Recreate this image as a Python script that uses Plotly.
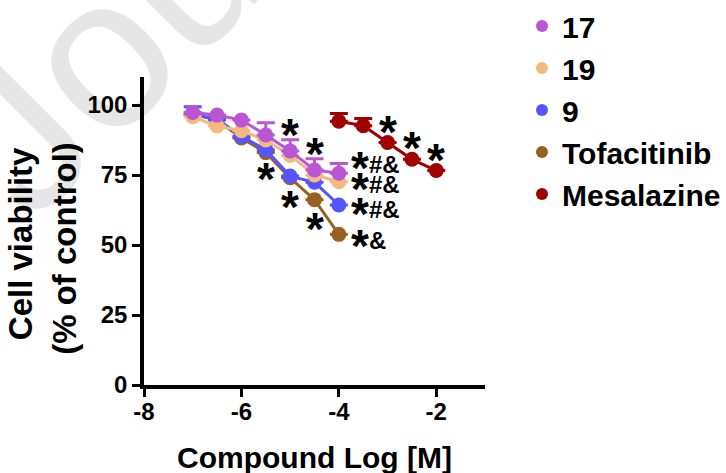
import plotly.graph_objects as go

# ---------------- data ----------------
conc = [-7, -6.5, -6, -5.5, -5, -4.5, -4]
conc_mes = [-4, -3.5, -3, -2.5, -2]

names = ["17", "19", "9", "Tofacitinib", "Mesalazine"]
colors = ["#BA55D3", "#F4B97F", "#5555FF", "#99611F", "#A00000"]

v17 = [97.3, 96.4, 94.6, 89.3, 83.6, 76.8, 75.6]
e17 = [0, 0, 0, 4.4, 4.0, 4.0, 3.5]
v19 = [95.8, 92.5, 90.8, 87.5, 82.0, 75.0, 72.6]
e19 = [0, 0, 0, 0, 0, 0, 0]
v9 = [96.6, 95.0, 88.8, 84.0, 74.6, 72.4, 64.3]
e9 = [2.8, 0, 0, 0, 0, 0, 0]
vtof = [96.8, 94.6, 88.2, 83.0, 74.0, 66.2, 53.8]
etof = [0, 0, 0, 0, 0, 0, 0]
vmes = [94.2, 92.6, 86.6, 80.6, 76.6]
emes = [2.8, 2.6, 0, 0, 0]

xs = [conc, conc, conc, conc, conc_mes]
ys = [v17, v19, v9, vtof, vmes]
es = [e17, e19, e9, etof, emes]

# significance marks: (series index, point index)
stars_above = [(0, 4), (0, 5), (4, 2), (4, 3), (4, 4)]
stars_below = [(2, 3), (3, 4), (3, 5)]
end_labels = [(0, "#&"), (1, "#&"), (2, "#&"), (3, "&")]

xticks = [-8, -6, -4, -2]
yticks = [0, 25, 50, 75, 100]

FONT = "Liberation Sans, Arial, sans-serif"


def bold(size, color="black"):
    return dict(size=size, color=color, family=FONT, weight="bold")


fig = go.Figure()

# data traces, drawn last-to-first so "17" is on top
for i in reversed(range(len(names))):
    fig.add_trace(go.Scatter(
        x=xs[i], y=ys[i], mode="lines+markers", showlegend=False,
        line=dict(color=colors[i], width=3),
        marker=dict(color=colors[i], size=15),
        error_y=dict(type="data", array=es[i], arrayminus=[0] * len(es[i]),
                     color=colors[i], thickness=3, width=9),
        cliponaxis=False,
    ))

# legend entries
for i in range(len(names)):
    fig.add_trace(go.Scatter(
        x=[None], y=[None], mode="markers", name=names[i],
        marker=dict(color=colors[i], size=15),
    ))

ann = []
for s, p in stars_above:
    ann.append(dict(x=xs[s][p], y=ys[s][p], text="*", showarrow=False,
                    xref="x", yref="y", font=bold(46),
                    yshift=(11 if s == 4 else 16), xanchor="center", yanchor="middle"))
for s, p in stars_below:
    ann.append(dict(x=xs[s][p], y=ys[s][p], text="*", showarrow=False,
                    xref="x", yref="y", font=bold(46),
                    yshift=-29, xanchor="center", yanchor="middle"))
star_end_shift = [5, -7, -9, -12]
txt_end_shift = [9, -3, -5, -6]
for k, (s, t) in enumerate(end_labels):
    ann.append(dict(x=xs[s][-1], y=ys[s][-1], text="*", showarrow=False,
                    xref="x", yref="y", font=bold(46),
                    xshift=21, yshift=star_end_shift[k], xanchor="center", yanchor="middle"))
    ann.append(dict(x=xs[s][-1], y=ys[s][-1], text=t, showarrow=False,
                    xref="x", yref="y", font=bold(24),
                    xshift=28, yshift=txt_end_shift[k], xanchor="left", yanchor="middle"))

# axis titles
ann.append(dict(x=-0.36, y=0.458, xref="paper", yref="paper", text="Cell viability",
                textangle=-90, showarrow=False, xanchor="center", yanchor="middle",
                font=bold(33)))
ann.append(dict(x=-0.232, y=0.445, xref="paper", yref="paper", text="(% of control)",
                textangle=-90, showarrow=False, xanchor="center", yanchor="middle",
                font=bold(33)))
ann.append(dict(x=0.5, y=-0.234, xref="paper", yref="paper", text="Compound Log [M]",
                showarrow=False, xanchor="center", yanchor="middle",
                font=bold(30)))

# watermark as a label on an invisible line, kept beneath everything
watermark = dict(
    type="line", xref="paper", yref="paper", layer="below",
    x0=0.9892, y0=2.4084, x1=1.4038, y1=2.8675,
    line=dict(color="rgba(0,0,0,0)", width=1),
    label=dict(text="Journal Pre-proof", textposition="middle", textangle=-45,
               xanchor="center", yanchor="middle", padding=0,
               font=dict(size=215, color="#E6E6E6", family=FONT)),
)

fig.update_layout(
    width=726, height=473,
    margin=dict(l=144, r=241, t=77, b=88),
    paper_bgcolor="white", plot_bgcolor="rgba(0,0,0,0)",
    showlegend=True,
    legend=dict(xref="container", yref="container", x=0.719, y=1.0,
                xanchor="left", yanchor="top",
                font=bold(30),
                itemsizing="constant", tracegroupgap=0, bgcolor="rgba(0,0,0,0)"),
    annotations=ann,
    shapes=[watermark],
)
fig.update_xaxes(range=[-8, -1], tickvals=xticks, ticktext=[str(v) for v in xticks],
                 ticks="outside", ticklen=8, tickwidth=3, tickcolor="black",
                 showline=True, linewidth=3.5, linecolor="black",
                 showgrid=False, zeroline=False, ticklabelstandoff=-6,
                 tickfont=bold(24))
fig.update_yaxes(range=[0, 110], tickvals=yticks,
                 ticks="outside", ticklen=8, tickwidth=3, tickcolor="black",
                 showline=True, linewidth=3.5, linecolor="black",
                 showgrid=False, zeroline=False,
                 tickfont=bold(24))

fig.write_html("out.html", post_script="document.body.style.margin='0px';",
               config={"displayModeBar": False})
